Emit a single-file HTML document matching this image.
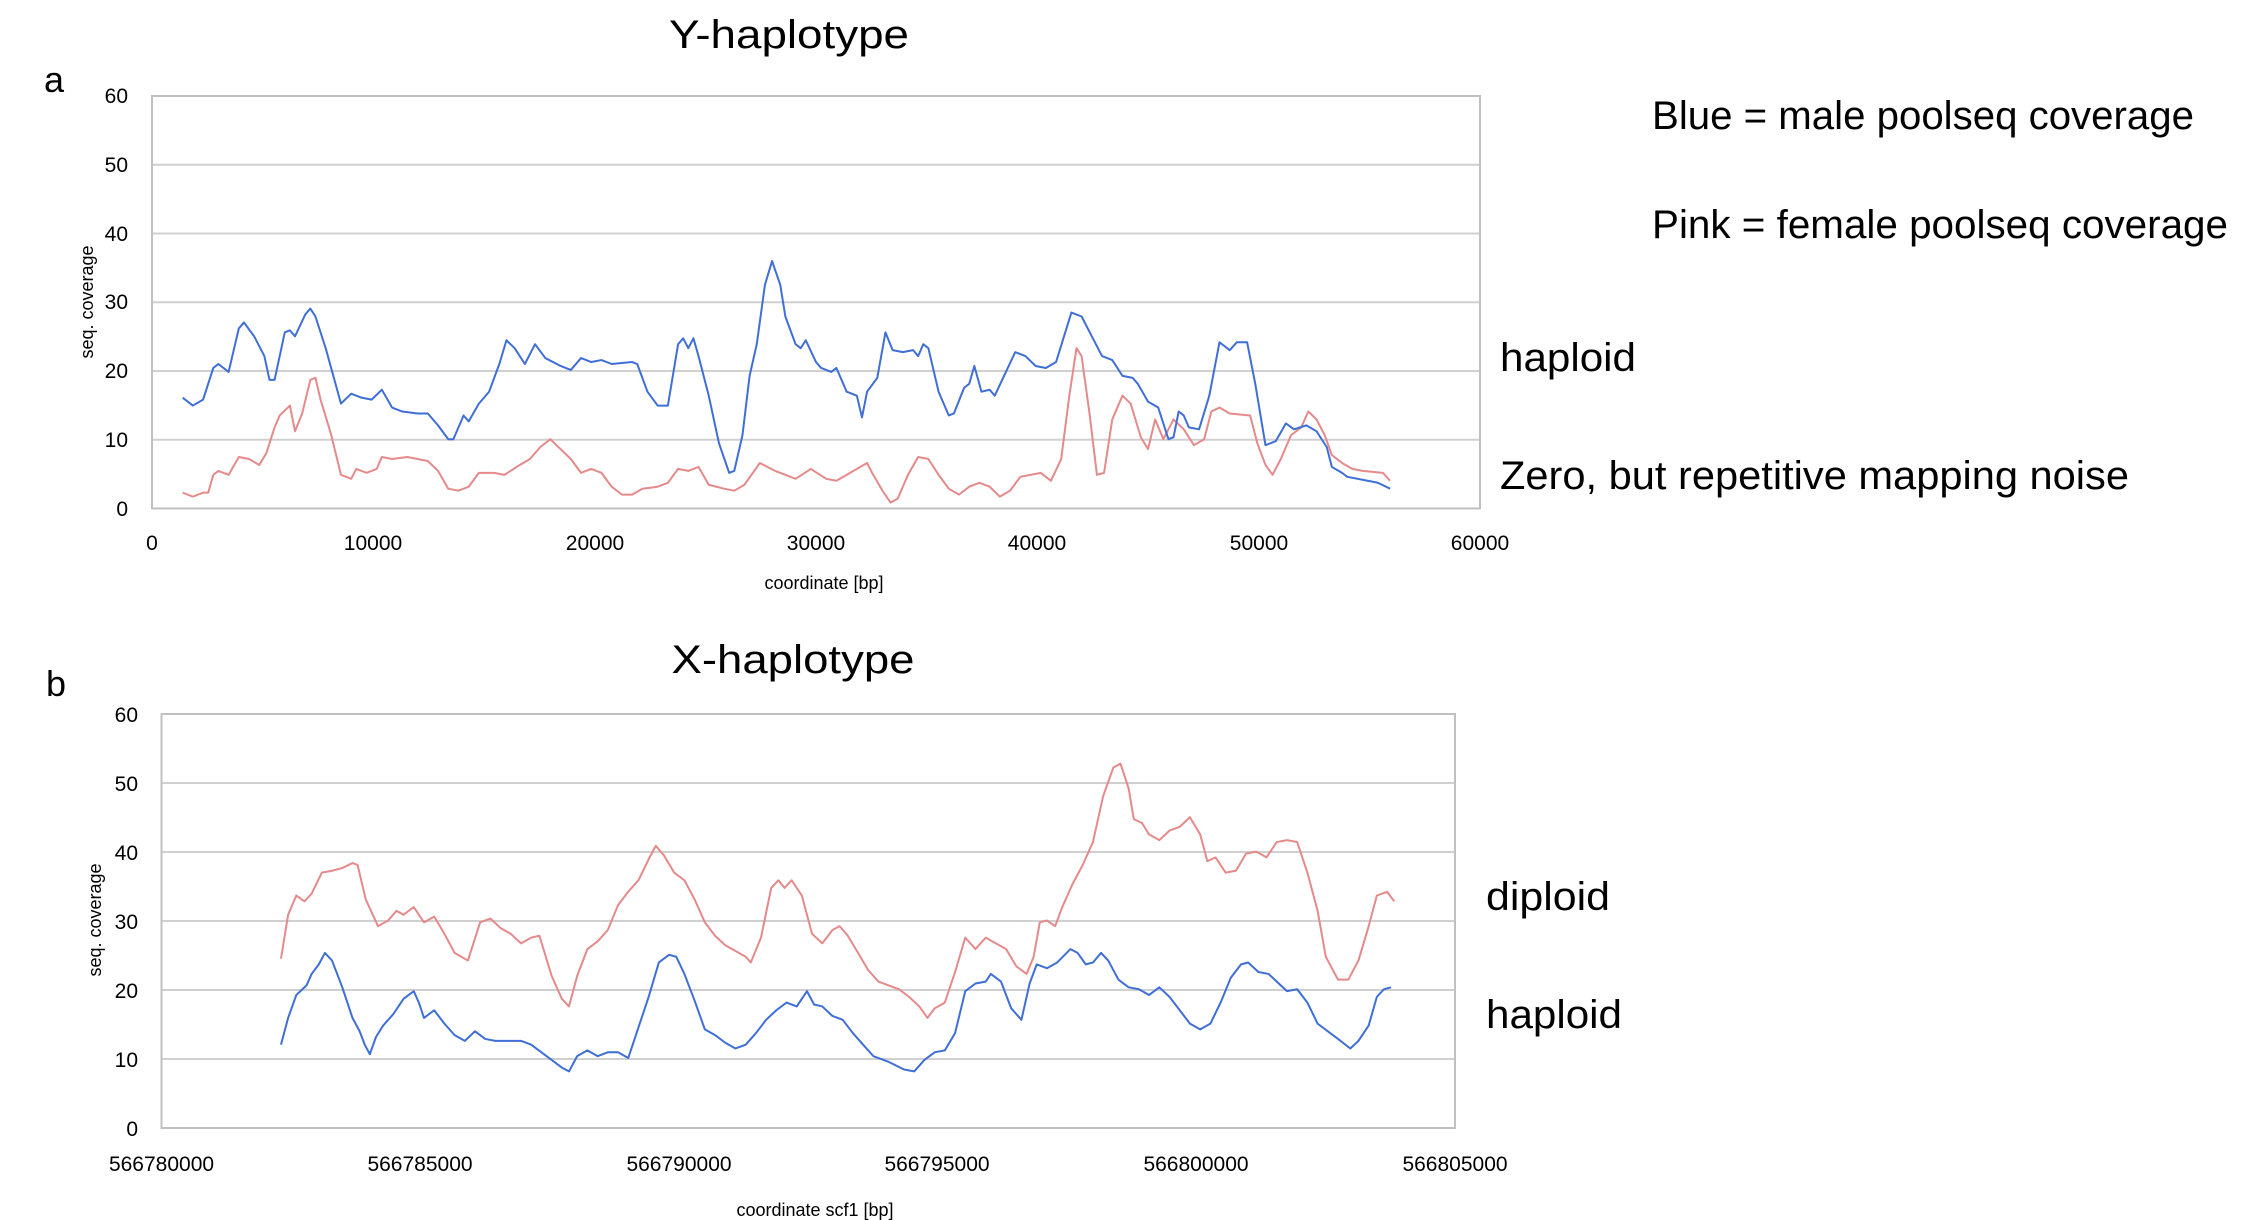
<!DOCTYPE html>
<html><head><meta charset="utf-8"><style>
html,body{margin:0;padding:0;background:#fff;}
svg{display:block;font-family:"Liberation Sans",sans-serif;}
</style></head><body>
<svg width="2268" height="1220" viewBox="0 0 2268 1220" xmlns="http://www.w3.org/2000/svg">
<rect width="2268" height="1220" fill="#fff"/>
<!-- Panel a -->
<text x="789" y="48" font-size="40" text-anchor="middle" textLength="240" lengthAdjust="spacingAndGlyphs">Y-haplotype</text>
<text x="44" y="92" font-size="36">a</text>
<g stroke="#d0d0d0" stroke-width="2">
<line x1="152" y1="164.75" x2="1480" y2="164.75"/><line x1="152" y1="233.5" x2="1480" y2="233.5"/>
<line x1="152" y1="302.25" x2="1480" y2="302.25"/><line x1="152" y1="371" x2="1480" y2="371"/>
<line x1="152" y1="439.75" x2="1480" y2="439.75"/>
</g>
<rect x="152" y="96" width="1328" height="412.5" fill="none" stroke="#c0c0c0" stroke-width="2"/>
<g font-size="21" text-anchor="end">
<text x="128" y="103">60</text><text x="128" y="172">50</text><text x="128" y="241">40</text>
<text x="128" y="309">30</text><text x="128" y="378">20</text><text x="128" y="447">10</text><text x="128" y="516">0</text>
</g>
<g font-size="21" text-anchor="middle">
<text x="152" y="550">0</text><text x="373" y="550">10000</text><text x="595" y="550">20000</text>
<text x="816" y="550">30000</text><text x="1037" y="550">40000</text><text x="1259" y="550">50000</text><text x="1480" y="550">60000</text>
</g>
<text x="824" y="589" font-size="18" text-anchor="middle">coordinate [bp]</text>
<text transform="translate(93,302) rotate(-90)" font-size="18" text-anchor="middle">seq. coverage</text>
<g transform="matrix(1.02154 0 0 0.39587 -1.231 -0.196)" fill="none" stroke-width="2" stroke-linejoin="round">
<polyline vector-effect="non-scaling-stroke" stroke="#e58a8a" points="180,1245 190,1255 200,1245 205,1245 210,1200 215,1190 225,1200 235,1155 245,1160 255,1175 262,1145 270,1080 275,1050 285,1025 290,1090 297,1045 305,960 310,955 315,1010 325,1095 335,1200 345,1210 350,1185 360,1195 370,1185 375,1155 385,1160 400,1155 420,1165 430,1190 440,1235 450,1240 460,1230 470,1195 485,1195 495,1200 510,1175 520,1160 530,1130 540,1110 550,1135 560,1160 570,1195 580,1185 590,1195 600,1230 610,1250 620,1250 630,1235 645,1230 655,1220 665,1185 675,1190 685,1180 695,1225 710,1235 720,1240 730,1225 745,1170 760,1190 770,1200 780,1210 795,1185 810,1210 820,1215 830,1200 840,1185 850,1170 855,1195 865,1240 873,1270 880,1260 890,1200 900,1155 910,1160 920,1200 930,1235 940,1250 950,1230 960,1220 970,1230 980,1255 990,1240 1000,1205 1010,1200 1020,1195 1030,1215 1040,1160 1048,1000 1055,880 1060,900 1068,1050 1075,1200 1082,1195 1090,1060 1100,1000 1108,1020 1118,1105 1125,1135 1132,1060 1140,1110 1150,1060 1160,1085 1170,1125 1180,1110 1187,1040 1195,1030 1205,1045 1225,1050 1232,1120 1240,1175 1247,1200 1255,1160 1265,1100 1275,1080 1282,1040 1290,1060 1298,1100 1305,1150 1315,1170 1325,1185 1335,1190 1355,1195 1362,1215"/>
<polyline vector-effect="non-scaling-stroke" stroke="#3f6fd6" points="180,1005 190,1025 200,1010 210,930 215,920 225,940 235,830 240,815 250,850 260,900 265,960 270,960 280,840 285,835 290,850 300,795 305,780 310,800 320,880 335,1020 345,995 355,1005 365,1010 375,985 385,1030 395,1040 410,1045 420,1045 430,1075 440,1110 445,1110 455,1050 460,1065 470,1020 480,990 490,920 497,860 505,880 515,920 525,870 535,905 550,925 560,935 570,905 580,915 590,910 600,920 620,915 625,920 635,990 645,1025 655,1025 665,870 670,855 675,880 680,855 685,900 695,1000 705,1120 715,1195 720,1190 728,1100 735,950 742,870 750,720 757,660 765,720 770,800 780,870 785,880 790,860 800,915 805,930 815,940 820,930 830,990 840,1000 845,1055 850,990 860,955 868,840 875,885 885,890 895,885 900,900 905,870 910,880 920,990 930,1050 935,1045 945,980 950,970 955,925 962,990 970,985 975,1000 985,945 995,890 1005,900 1015,925 1025,930 1035,915 1050,790 1060,800 1070,850 1080,900 1090,910 1100,950 1110,955 1115,970 1125,1015 1135,1030 1145,1110 1150,1105 1155,1040 1160,1050 1165,1080 1175,1085 1185,1000 1195,865 1205,885 1212,865 1222,865 1230,970 1240,1125 1250,1115 1260,1070 1268,1085 1280,1075 1290,1090 1300,1130 1305,1180 1315,1195 1320,1205 1340,1215 1350,1220 1362,1235"/>
</g>
<g font-size="40" lengthAdjust="spacingAndGlyphs">
<text x="1652" y="129" textLength="542" lengthAdjust="spacingAndGlyphs">Blue = male poolseq coverage</text>
<text x="1652" y="238" textLength="576" lengthAdjust="spacingAndGlyphs">Pink = female poolseq coverage</text>
<text x="1500" y="371" textLength="136" lengthAdjust="spacingAndGlyphs">haploid</text>
<text x="1500" y="489" textLength="629" lengthAdjust="spacingAndGlyphs">Zero, but repetitive mapping noise</text>
</g>
<!-- Panel b -->
<text x="793" y="673" font-size="40" text-anchor="middle" textLength="243" lengthAdjust="spacingAndGlyphs">X-haplotype</text>
<text x="46" y="696" font-size="36">b</text>
<g stroke="#d0d0d0" stroke-width="2">
<line x1="161.5" y1="783" x2="1455" y2="783"/><line x1="161.5" y1="852" x2="1455" y2="852"/>
<line x1="161.5" y1="921" x2="1455" y2="921"/><line x1="161.5" y1="990" x2="1455" y2="990"/>
<line x1="161.5" y1="1059" x2="1455" y2="1059"/>
</g>
<rect x="161.5" y="714" width="1293.5" height="414" fill="none" stroke="#c0c0c0" stroke-width="2"/>
<g font-size="21" text-anchor="end">
<text x="138" y="722">60</text><text x="138" y="791">50</text><text x="138" y="860">40</text>
<text x="138" y="929">30</text><text x="138" y="998">20</text><text x="138" y="1067">10</text><text x="138" y="1136">0</text>
</g>
<g font-size="21" text-anchor="middle">
<text x="161.5" y="1171">566780000</text><text x="420" y="1171">566785000</text><text x="679" y="1171">566790000</text>
<text x="937" y="1171">566795000</text><text x="1196" y="1171">566800000</text><text x="1455" y="1171">566805000</text>
</g>
<text x="815" y="1216" font-size="18" text-anchor="middle">coordinate scf1 [bp]</text>
<text transform="translate(101,920) rotate(-90)" font-size="18" text-anchor="middle">seq. coverage</text>
<g transform="matrix(1.0213 0 0 0.38227 0.135 620.34)" fill="none" stroke-width="2" stroke-linejoin="round">
<polyline vector-effect="non-scaling-stroke" stroke="#e58a8a" points="275,885 282,770 290,720 298,735 305,715 315,660 325,655 335,648 345,635 350,640 358,730 370,800 380,785 388,760 395,770 405,750 415,790 425,775 435,820 445,870 458,890 470,790 480,780 490,805 500,820 510,845 520,830 528,825 540,930 550,990 557,1010 565,930 575,860 585,840 595,810 605,745 615,710 625,680 635,625 642,590 650,615 660,660 670,680 680,730 690,790 700,825 710,850 720,865 730,880 735,895 745,830 755,700 762,680 768,700 775,680 785,720 795,820 805,845 815,810 822,800 830,825 840,870 850,915 860,945 870,955 880,965 890,985 900,1010 908,1040 915,1015 925,1000 935,920 945,830 955,860 965,830 975,845 985,860 995,905 1005,925 1012,880 1018,790 1025,785 1033,800 1040,750 1050,690 1060,640 1070,580 1080,460 1090,385 1097,375 1105,440 1110,520 1118,530 1125,560 1135,575 1145,550 1155,540 1165,515 1175,560 1182,630 1190,620 1200,660 1210,655 1220,610 1230,605 1240,620 1250,580 1260,575 1270,580 1280,660 1290,760 1298,880 1310,940 1320,940 1330,890 1340,800 1348,720 1358,710 1365,735"/>
<polyline vector-effect="non-scaling-stroke" stroke="#3f6fd6" points="275,1110 282,1040 290,980 300,955 305,925 312,900 318,870 325,890 335,960 345,1040 352,1075 357,1110 362,1135 368,1090 375,1060 385,1030 395,990 405,970 410,1000 415,1040 425,1020 435,1055 445,1085 455,1100 465,1075 475,1095 485,1100 495,1100 510,1100 520,1110 530,1130 540,1150 550,1170 557,1180 565,1140 575,1125 585,1140 595,1130 605,1130 615,1145 625,1065 635,985 645,895 655,875 662,880 670,925 680,995 690,1070 700,1085 710,1105 720,1120 730,1110 740,1080 750,1045 760,1020 770,1000 780,1010 790,970 797,1005 805,1010 815,1035 825,1045 835,1080 845,1110 855,1140 870,1155 885,1175 895,1180 905,1150 915,1130 925,1125 935,1080 945,970 955,950 965,945 970,925 980,945 990,1015 1000,1045 1008,950 1015,900 1025,910 1035,895 1048,860 1055,870 1063,900 1070,895 1078,870 1085,890 1095,940 1105,960 1115,965 1125,980 1135,960 1145,985 1155,1020 1165,1055 1175,1070 1185,1055 1195,1000 1205,935 1215,900 1222,895 1232,920 1242,925 1250,945 1260,970 1270,965 1280,1000 1290,1055 1300,1075 1310,1095 1322,1120 1330,1100 1340,1060 1348,985 1355,965 1362,960"/>
</g>
<g font-size="40">
<text x="1486" y="910" textLength="124" lengthAdjust="spacingAndGlyphs">diploid</text>
<text x="1486" y="1028" textLength="136" lengthAdjust="spacingAndGlyphs">haploid</text>
</g>
</svg>
</body></html>
